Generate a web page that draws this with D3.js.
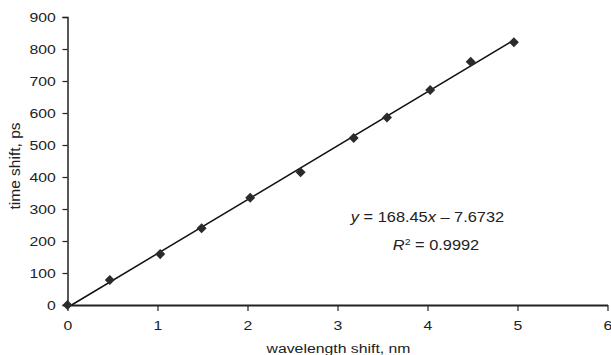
<!DOCTYPE html>
<html>
<head>
<meta charset="utf-8">
<script src="https://cdn.jsdelivr.net/npm/d3@7"></script>
<style>
  body { margin: 0; background: #fff; }
  svg text { font-family: "Liberation Sans", Arial, sans-serif; fill: #222; }
</style>
</head>
<body>
<div id="chart" style="width:611px;height:355px"></div>
<script>
// measured points (wavelength shift nm, time shift ps)
const wavelengthShift = [0, 0.47, 1.03, 1.49, 2.03, 2.59, 3.18, 3.55, 4.03, 4.48, 4.96];
const timeShift = [0, 78, 159, 240, 335, 415, 522, 586, 672, 760, 821];
const xTicks = [0, 1, 2, 3, 4, 5, 6];
const yTicks = [0, 100, 200, 300, 400, 500, 600, 700, 800, 900];
const slope = 168.45;
const intercept = -7.6732;

const width = 611, height = 355;
const margin = {top: 17, right: 3.5, bottom: 50, left: 67.5};
const stretch = 1.17; // the original type is a little wide

const svg = d3.select("#chart").append("svg")
    .attr("width", width)
    .attr("height", height);

const x = d3.scaleLinear().domain([0, 6]).range([margin.left, width - margin.right]);
const y = d3.scaleLinear().domain([0, 900]).range([height - margin.bottom, margin.top]);

// y axis
const yAxis = svg.append("g")
    .attr("transform", "translate(" + margin.left + ",0)")
    .call(d3.axisLeft(y).tickValues(yTicks).tickSize(5).tickPadding(5).tickFormat(d3.format("d")));
yAxis.select(".domain").attr("stroke", "#222").attr("stroke-width", 1.5);
yAxis.selectAll(".tick line").attr("stroke", "#222").attr("stroke-width", 1.2);
yAxis.selectAll("text")
    .style("font-size", "13.5px")
    .attr("fill", "#222")
    .attr("transform", "scale(" + stretch + ",1)");

// x axis
const xAxis = svg.append("g")
    .attr("transform", "translate(0," + y(0) + ")")
    .call(d3.axisBottom(x).tickValues(xTicks).tickSize(6).tickSizeOuter(0).tickPadding(9).tickFormat(d3.format("d")));
xAxis.select(".domain").attr("stroke", "#222").attr("stroke-width", 2);
xAxis.selectAll(".tick line").attr("stroke", "#222").attr("stroke-width", 1.2);
xAxis.selectAll("text")
    .style("font-size", "13.5px")
    .attr("fill", "#222")
    .attr("transform", "scale(" + stretch + ",1)");

// axis titles
svg.append("g")
    .attr("transform", "translate(" + (x(3) + 1) + ",352.5)scale(" + stretch + ",1)")
    .append("text")
    .attr("text-anchor", "middle")
    .style("font-size", "13.5px")
    .text("wavelength shift, nm");

svg.append("text")
    .attr("transform", "translate(19.5,166)rotate(-90)")
    .attr("text-anchor", "middle")
    .style("font-size", "15.5px")
    .text("time shift, ps");

// trend line
const xStart = -intercept / slope;
const xEnd = d3.max(wavelengthShift);
svg.append("line")
    .attr("x1", x(xStart)).attr("y1", y(slope * xStart + intercept))
    .attr("x2", x(xEnd)).attr("y2", y(slope * xEnd + intercept))
    .attr("stroke", "#111")
    .attr("stroke-width", 1.5);

// markers
const pts = wavelengthShift.map((d, i) => ({wl: d, t: timeShift[i]}));
svg.selectAll("path.pt")
    .data(pts)
    .enter()
    .append("path")
    .attr("class", "pt")
    .attr("d", d3.symbol().type(d3.symbolDiamond2).size(64))
    .attr("transform", d => "translate(" + x(d.wl) + "," + y(d.t) + ")")
    .attr("fill", "#2b2b2b");

// equation
const eq = svg.append("g")
    .attr("transform", "translate(427.5,222)scale(" + stretch + ",1)")
    .append("text")
    .attr("text-anchor", "middle")
    .style("font-size", "14px");
eq.append("tspan").style("font-style", "italic").text("y");
eq.append("tspan").text(" = 168.45");
eq.append("tspan").style("font-style", "italic").text("x");
eq.append("tspan").text(" \u2013 7.6732");

const r2 = svg.append("g")
    .attr("transform", "translate(436,250)scale(" + stretch + ",1)")
    .append("text")
    .attr("text-anchor", "middle")
    .style("font-size", "14px");
r2.append("tspan").style("font-style", "italic").text("R");
r2.append("tspan").attr("dy", -5).style("font-size", "9px").text("2");
r2.append("tspan").attr("dy", 5).text(" = 0.9992");
</script>
</body>
</html>
